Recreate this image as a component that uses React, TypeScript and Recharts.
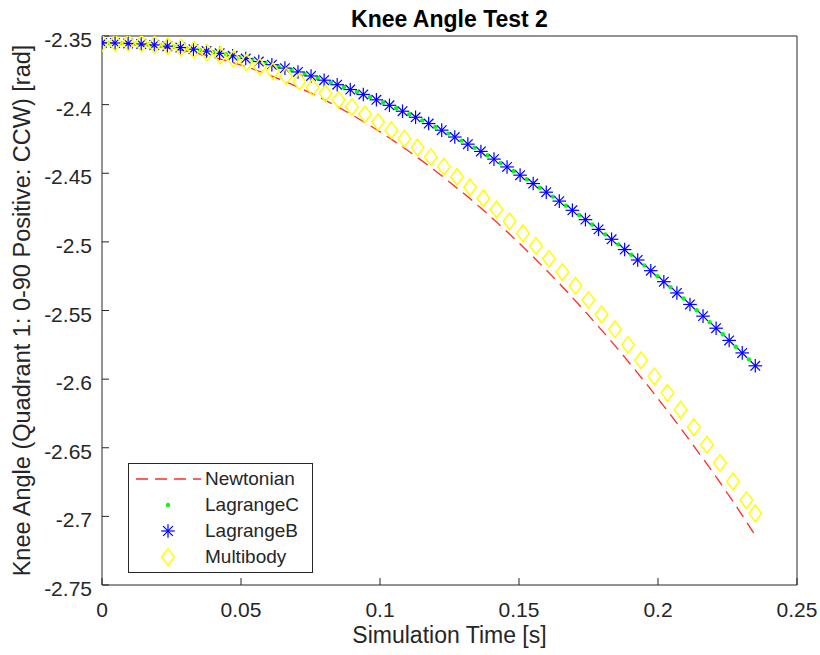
import React from 'react';
import { ComposedChart, Line, XAxis, YAxis, Legend, Label } from 'recharts';

const FONT = '"Liberation Sans", Arial, Helvetica, sans-serif';
const AXIS = '#262626';

const xTicks = [0, 0.05, 0.1, 0.15, 0.2, 0.25];
const yTicks = [-2.75, -2.7, -2.65, -2.6, -2.55, -2.5, -2.45, -2.4, -2.35];

// time grid shared by Newtonian and LagrangeB
const tGrid = [0, 0.0047, 0.0094, 0.0141, 0.0188, 0.0235, 0.0282, 0.0329, 0.0376, 0.0423, 0.047, 0.0517, 0.0564, 0.0611, 0.0658, 0.0705, 0.0752, 0.0799, 0.0846, 0.0893, 0.094, 0.0987, 0.1034, 0.1081, 0.1128, 0.1175, 0.1222, 0.1269, 0.1316, 0.1363, 0.141, 0.1457, 0.1504, 0.1551, 0.1598, 0.1645, 0.1692, 0.1739, 0.1786, 0.1833, 0.188, 0.1927, 0.1974, 0.2021, 0.2068, 0.2115, 0.2162, 0.2209, 0.2256, 0.2303, 0.235];

const newtonian = [-2.355, -2.3551, -2.3556, -2.3563, -2.3573, -2.3586, -2.3602, -2.362, -2.3642, -2.3666, -2.3693, -2.3723, -2.3756, -2.3792, -2.3831, -2.3872, -2.3916, -2.3964, -2.4014, -2.4067, -2.4123, -2.4181, -2.4243, -2.4307, -2.4375, -2.4445, -2.4518, -2.4594, -2.4672, -2.4754, -2.4838, -2.4926, -2.5016, -2.5109, -2.5205, -2.5303, -2.5405, -2.551, -2.5617, -2.5727, -2.584, -2.5956, -2.6075, -2.6197, -2.6321, -2.6449, -2.6579, -2.6712, -2.685, -2.6992, -2.714];

const lagrangeB = [-2.355, -2.3551, -2.3554, -2.3558, -2.3565, -2.3574, -2.3584, -2.3596, -2.361, -2.3626, -2.3644, -2.3664, -2.3686, -2.3709, -2.3734, -2.3762, -2.3791, -2.3822, -2.3855, -2.389, -2.3926, -2.3965, -2.4005, -2.4048, -2.4092, -2.4138, -2.4186, -2.4236, -2.4288, -2.4341, -2.4397, -2.4454, -2.4514, -2.4575, -2.4638, -2.4703, -2.477, -2.4838, -2.4909, -2.4981, -2.5056, -2.5132, -2.521, -2.529, -2.5372, -2.5456, -2.5541, -2.5629, -2.5718, -2.5809, -2.5903];

const tMid = [0.0024, 0.0071, 0.0118, 0.0165, 0.0212, 0.0259, 0.0306, 0.0353, 0.04, 0.0447, 0.0494, 0.0541, 0.0588, 0.0635, 0.0682, 0.0729, 0.0776, 0.0823, 0.087, 0.0917, 0.0964, 0.1011, 0.1058, 0.1105, 0.1152, 0.1199, 0.1246, 0.1293, 0.134, 0.1387, 0.1434, 0.1481, 0.1528, 0.1575, 0.1622, 0.1669, 0.1716, 0.1763, 0.181, 0.1857, 0.1904, 0.1951, 0.1998, 0.2045, 0.2092, 0.2139, 0.2186, 0.2233, 0.228, 0.2327];

const lagrangeC = [-2.355, -2.3552, -2.3556, -2.3562, -2.3569, -2.3578, -2.359, -2.3603, -2.3618, -2.3635, -2.3654, -2.3674, -2.3697, -2.3722, -2.3748, -2.3776, -2.3806, -2.3838, -2.3872, -2.3908, -2.3945, -2.3985, -2.4026, -2.407, -2.4115, -2.4162, -2.4211, -2.4262, -2.4314, -2.4369, -2.4425, -2.4484, -2.4544, -2.4606, -2.467, -2.4736, -2.4804, -2.4873, -2.4945, -2.5018, -2.5094, -2.5171, -2.525, -2.5331, -2.5413, -2.5498, -2.5585, -2.5673, -2.5764, -2.5856];

const tMulti = [0, 0.0047, 0.0095, 0.0142, 0.0189, 0.0237, 0.0284, 0.0331, 0.0378, 0.0426, 0.0473, 0.052, 0.0568, 0.0615, 0.0662, 0.071, 0.0757, 0.0804, 0.0851, 0.0899, 0.0946, 0.0993, 0.1041, 0.1088, 0.1135, 0.1183, 0.123, 0.1277, 0.1324, 0.1372, 0.1419, 0.1466, 0.1514, 0.1561, 0.1608, 0.1656, 0.1703, 0.175, 0.1797, 0.1845, 0.1892, 0.1939, 0.1987, 0.2034, 0.2081, 0.2129, 0.2176, 0.2223, 0.227, 0.2318, 0.235];

const multibody = [-2.355, -2.355, -2.3551, -2.3555, -2.3563, -2.3573, -2.3585, -2.3601, -2.362, -2.3641, -2.3666, -2.3693, -2.3724, -2.3757, -2.3793, -2.3832, -2.3874, -2.3919, -2.3966, -2.4017, -2.407, -2.4127, -2.4186, -2.4248, -2.4313, -2.4381, -2.4452, -2.4526, -2.4602, -2.4682, -2.4764, -2.485, -2.4938, -2.5029, -2.5123, -2.522, -2.532, -2.5423, -2.5529, -2.5637, -2.5749, -2.5863, -2.598, -2.61, -2.6224, -2.635, -2.6478, -2.661, -2.6745, -2.6882, -2.6978];

const seriesNames = ['Newtonian', 'LagrangeC', 'LagrangeB', 'Multibody'];

const newtonianData = tGrid.map((t, i) => ({ t, v: newtonian[i] }));
const lagrangeBData = tGrid.map((t, i) => ({ t, v: lagrangeB[i] }));
const lagrangeCData = tMid.map((t, i) => ({ t, v: lagrangeC[i] }));
const multibodyData = tMulti.map((t, i) => ({ t, v: multibody[i] }));

const RED = '#ff2a2a';
const GREEN = '#00ff00';
const BLUE = '#0000ff';
const YELLOW = '#ffff00';

const Star = ({ cx, cy }: { cx: number; cy: number }) => {
  const r = 6.8;
  const d = 4.8;
  return (
    <g stroke={BLUE} strokeWidth={1.2} fill="none">
      <line x1={cx - r} y1={cy} x2={cx + r} y2={cy} />
      <line x1={cx} y1={cy - r} x2={cx} y2={cy + r} />
      <line x1={cx - d} y1={cy - d} x2={cx + d} y2={cy + d} />
      <line x1={cx - d} y1={cy + d} x2={cx + d} y2={cy - d} />
    </g>
  );
};

const Diamond = ({ cx, cy }: { cx: number; cy: number }) => {
  const w = 6.3;
  const h = 8.3;
  return (
    <path
      d={`M${cx},${cy - h}L${cx + w},${cy}L${cx},${cy + h}L${cx - w},${cy}Z`}
      stroke={YELLOW}
      strokeWidth={1.5}
      fill="none"
    />
  );
};

const GreenDot = ({ cx, cy }: { cx: number; cy: number }) => (
  <circle cx={cx} cy={cy} r={2.2} fill={GREEN} stroke="none" />
);

const XTick = (props: any) => {
  const { x, y, payload } = props;
  return (
    <text x={x} y={y + 15} textAnchor="middle" fontSize={21} fontFamily={FONT} fill={AXIS}>
      {String(payload.value)}
    </text>
  );
};

const YTick = (props: any) => {
  const { x, y, payload } = props;
  return (
    <text x={x} y={y + 11} textAnchor="end" fontSize={21} fontFamily={FONT} fill={AXIS}>
      {String(payload.value)}
    </text>
  );
};

const XLabelContent = (props: any) => {
  const vb = props.viewBox || {};
  return (
    <text x={vb.x + vb.width / 2} y={643} textAnchor="middle" fontSize={23} fontFamily={FONT} fill={AXIS}>
      Simulation Time [s]
    </text>
  );
};

const YLabelContent = (props: any) => {
  const vb = props.viewBox || {};
  const cy = vb.y + vb.height / 2;
  const bx = 30;
  return (
    <text
      x={bx}
      y={cy}
      transform={`rotate(-90, ${bx}, ${cy})`}
      textAnchor="middle"
      fontSize={23.5}
      fontFamily={FONT}
      fill={AXIS}
    >
      Knee Angle (Quadrant 1: 0-90 Positive: CCW) [rad]
    </text>
  );
};

const TitleContent = (props: any) => {
  const vb = props.viewBox || {};
  return (
    <text x={vb.x + vb.width / 2} y={27} textAnchor="middle" fontSize={23} fontWeight="bold" fontFamily={FONT} fill="#000">
      Knee Angle Test 2
    </text>
  );
};

const LegendIcon = ({ idx }: { idx: number }) => {
  const cx = 39;
  const cy = 13;
  return (
    <svg width={76} height={26} style={{ display: 'block', flex: 'none' }}>
      {idx === 0 && <line x1={7} y1={cy} x2={72} y2={cy} stroke={RED} strokeWidth={1.3} strokeDasharray="12 7" />}
      {idx === 1 && <GreenDot cx={cx} cy={cy} />}
      {idx === 2 && <Star cx={cx} cy={cy} />}
      {idx === 3 && <Diamond cx={cx} cy={cy} />}
    </svg>
  );
};

const renderLegend = () => (
  <div
    style={{
      width: 185,
      height: 110,
      boxSizing: 'border-box',
      border: `1px solid ${AXIS}`,
      background: '#fff',
      paddingTop: 2,
      fontFamily: FONT,
      fontSize: 19,
      color: AXIS,
    }}
  >
    {seriesNames.map((name, i) => (
      <div key={name} style={{ display: 'flex', alignItems: 'center', height: 26 }}>
        <LegendIcon idx={i} />
        <span style={{ lineHeight: '26px', whiteSpace: 'nowrap' }}>{name}</span>
      </div>
    ))}
  </div>
);

export default function App() {
  return (
    <div style={{ position: 'absolute', left: 0, top: 0, width: 820, height: 655, background: '#fff' }}>
      <ComposedChart width={820} height={655} margin={{ top: 35, right: 22, bottom: 30, left: 42 }}>
        <XAxis
          xAxisId="bottom"
          type="number"
          dataKey="t"
          domain={[0, 0.25]}
          allowDataOverflow
          ticks={xTicks}
          height={40}
          tickSize={-7}
          tickMargin={24}
          tick={<XTick />}
          stroke={AXIS}
          label={<Label content={<XLabelContent />} />}
        />
        <XAxis
          xAxisId="top"
          orientation="top"
          type="number"
          dataKey="t"
          domain={[0, 0.25]}
          allowDataOverflow
          ticks={xTicks}
          height={1}
          tickSize={-7}
          tick={false}
          stroke={AXIS}
          label={<Label content={<TitleContent />} />}
        />
        <YAxis
          yAxisId="left"
          type="number"
          domain={[-2.75, -2.35]}
          allowDataOverflow
          ticks={yTicks}
          width={60}
          tickSize={-7}
          tickMargin={17}
          tick={<YTick />}
          stroke={AXIS}
          label={<Label content={<YLabelContent />} />}
        />
        <YAxis
          yAxisId="right"
          orientation="right"
          type="number"
          domain={[-2.75, -2.35]}
          allowDataOverflow
          ticks={yTicks}
          width={1}
          tickSize={-7}
          tick={false}
          stroke={AXIS}
        />
        <Line
          xAxisId="bottom"
          yAxisId="left"
          data={newtonianData}
          dataKey="v"
          name="Newtonian"
          stroke={RED}
          strokeWidth={1.3}
          strokeDasharray="12 7"
          dot={false}
          activeDot={false}
          isAnimationActive={false}
        />
        <Line
          xAxisId="bottom"
          yAxisId="left"
          data={lagrangeCData}
          dataKey="v"
          name="LagrangeC"
          stroke="none"
          dot={(p: any) => <GreenDot key={`c-${p.index}`} cx={p.cx} cy={p.cy} />}
          activeDot={false}
          isAnimationActive={false}
        />
        <Line
          xAxisId="bottom"
          yAxisId="left"
          data={lagrangeBData}
          dataKey="v"
          name="LagrangeB"
          stroke="none"
          dot={(p: any) => <Star key={`b-${p.index}`} cx={p.cx} cy={p.cy} />}
          activeDot={false}
          isAnimationActive={false}
        />
        <Line
          xAxisId="top"
          yAxisId="right"
          data={multibodyData}
          dataKey="v"
          name="Multibody"
          stroke="none"
          dot={(p: any) => <Diamond key={`m-${p.index}`} cx={p.cx} cy={p.cy} />}
          activeDot={false}
          isAnimationActive={false}
        />
        <Legend
          layout="vertical"
          align="center"
          verticalAlign="middle"
          content={renderLegend}
          wrapperStyle={{ left: 128, top: 463, width: 185, height: 110 }}
        />
      </ComposedChart>
    </div>
  );
}
